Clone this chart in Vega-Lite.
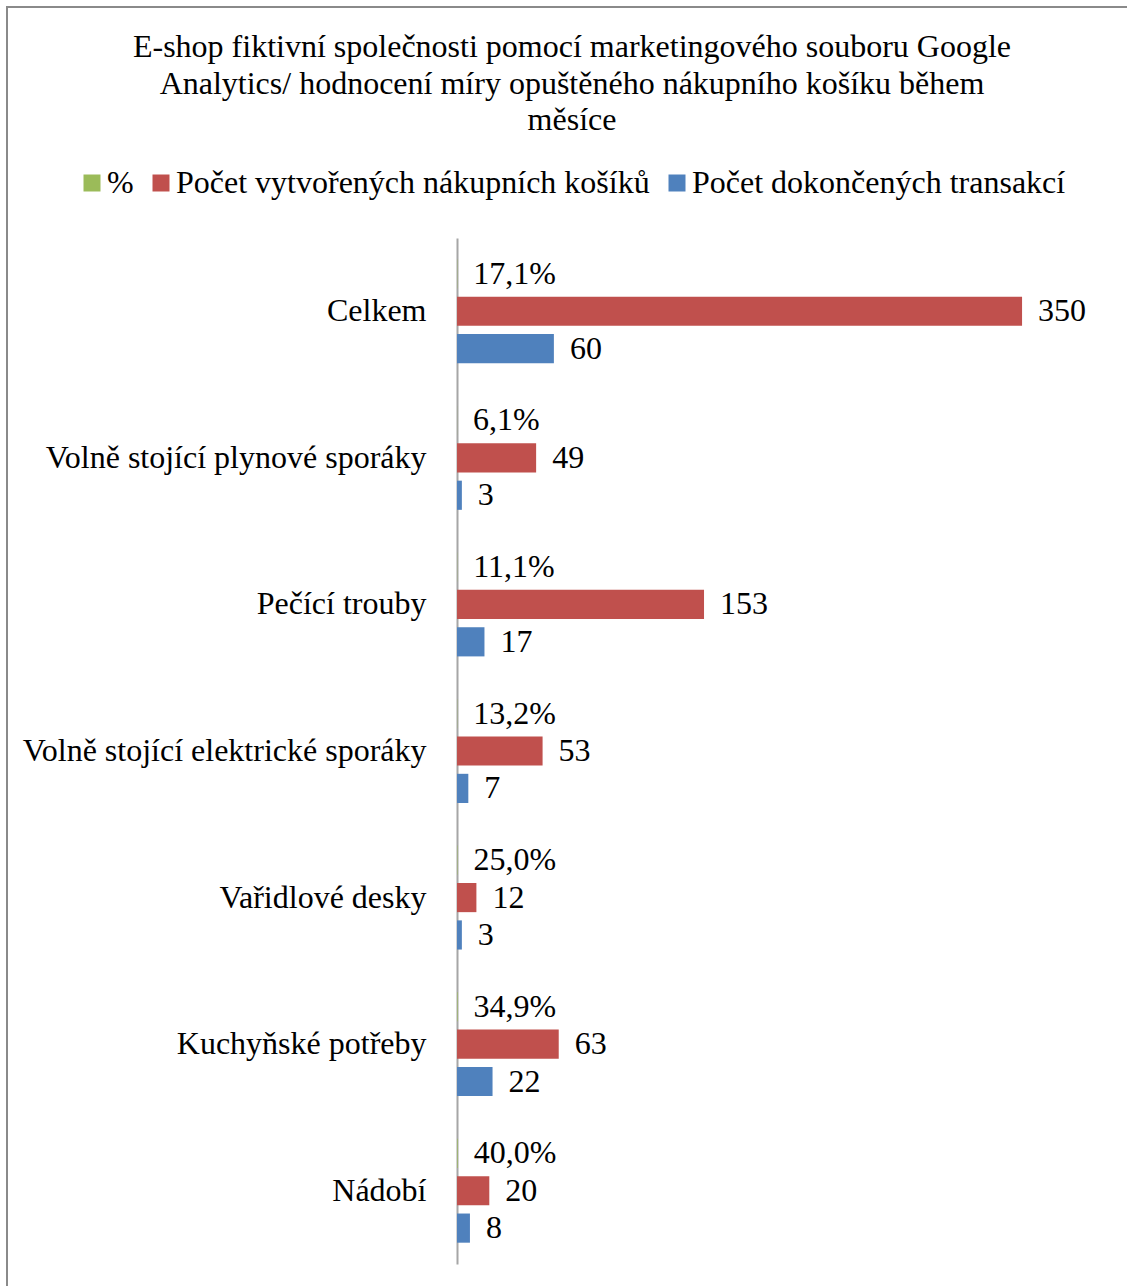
{
  "$schema": "https://vega.github.io/schema/vega-lite/v6.json",
  "autosize": "none",
  "padding": {"left": 7, "top": 7, "right": 0, "bottom": 0},
  "width": 1130,
  "height": 1290,
  "background": "white",
  "title": {
    "text": ["E-shop fiktivní společnosti pomocí marketingového souboru Google", "Analytics/ hodnocení míry opuštěného nákupního košíku během", "měsíce"],
    "font": "Liberation Serif",
    "fontSize": 32,
    "fontWeight": "normal",
    "color": "black",
    "lineHeight": 36.5,
    "anchor": "middle",
    "frame": "group",
    "baseline": "top",
    "offset": -130
  },
  "data": {
    "values": [
      {"kategorie": "Celkem", "serie": "%", "hodnota": 0.171},
      {"kategorie": "Celkem", "serie": "Počet vytvořených nákupních košíků", "hodnota": 350},
      {"kategorie": "Celkem", "serie": "Počet dokončených transakcí", "hodnota": 60},
      {"kategorie": "Volně stojící plynové sporáky", "serie": "%", "hodnota": 0.061},
      {"kategorie": "Volně stojící plynové sporáky", "serie": "Počet vytvořených nákupních košíků", "hodnota": 49},
      {"kategorie": "Volně stojící plynové sporáky", "serie": "Počet dokončených transakcí", "hodnota": 3},
      {"kategorie": "Pečící trouby", "serie": "%", "hodnota": 0.111},
      {"kategorie": "Pečící trouby", "serie": "Počet vytvořených nákupních košíků", "hodnota": 153},
      {"kategorie": "Pečící trouby", "serie": "Počet dokončených transakcí", "hodnota": 17},
      {"kategorie": "Volně stojící elektrické sporáky", "serie": "%", "hodnota": 0.132},
      {"kategorie": "Volně stojící elektrické sporáky", "serie": "Počet vytvořených nákupních košíků", "hodnota": 53},
      {"kategorie": "Volně stojící elektrické sporáky", "serie": "Počet dokončených transakcí", "hodnota": 7},
      {"kategorie": "Vařidlové desky", "serie": "%", "hodnota": 0.25},
      {"kategorie": "Vařidlové desky", "serie": "Počet vytvořených nákupních košíků", "hodnota": 12},
      {"kategorie": "Vařidlové desky", "serie": "Počet dokončených transakcí", "hodnota": 3},
      {"kategorie": "Kuchyňské potřeby", "serie": "%", "hodnota": 0.349},
      {"kategorie": "Kuchyňské potřeby", "serie": "Počet vytvořených nákupních košíků", "hodnota": 63},
      {"kategorie": "Kuchyňské potřeby", "serie": "Počet dokončených transakcí", "hodnota": 22},
      {"kategorie": "Nádobí", "serie": "%", "hodnota": 0.4},
      {"kategorie": "Nádobí", "serie": "Počet vytvořených nákupních košíků", "hodnota": 20},
      {"kategorie": "Nádobí", "serie": "Počet dokončených transakcí", "hodnota": 8}
    ]
  },
  "encoding": {
    "y": {
      "field": "kategorie",
      "type": "nominal",
      "scale": {
        "domain": ["Celkem", "Volně stojící plynové sporáky", "Pečící trouby", "Volně stojící elektrické sporáky", "Vařidlové desky", "Kuchyňské potřeby", "Nádobí"],
        "range": [231, 1257],
        "paddingInner": 0,
        "paddingOuter": 0
      },
      "axis": {
        "title": null,
        "offset": -450,
        "ticks": false,
        "grid": false,
        "domainColor": "#a6a6a6",
        "domainWidth": 2,
        "labelFont": "Liberation Serif",
        "labelFontSize": 32,
        "labelColor": "black",
        "labelPadding": 31,
        "labelLimit": 600
      }
    },
    "yOffset": {
      "field": "serie",
      "type": "nominal",
      "scale": {
        "domain": ["%", "Počet vytvořených nákupních košíků", "Počet dokončených transakcí"],
        "paddingInner": 0.22,
        "paddingOuter": 0.57
      }
    },
    "x": {
      "field": "hodnota",
      "type": "quantitative",
      "scale": {"domain": [-278.76, 421.2], "nice": false, "zero": false},
      "axis": null
    }
  },
  "layer": [
    {
      "mark": {"type": "bar"},
      "encoding": {
        "color": {
          "field": "serie",
          "type": "nominal",
          "scale": {
            "domain": ["%", "Počet vytvořených nákupních košíků", "Počet dokončených transakcí"],
            "range": ["#9BBB59", "#C0504D", "#4F81BD"]
          },
          "legend": {
            "orient": "none",
            "legendX": 69,
            "legendY": 160,
            "direction": "horizontal",
            "columns": 3,
            "title": null,
            "padding": 0,
            "symbolType": "square",
            "symbolSize": 289,
            "symbolStrokeWidth": 0,
            "symbolOpacity": 1,
            "labelFont": "Liberation Serif",
            "labelFontSize": 32,
            "labelColor": "black",
            "labelLimit": 700,
            "labelOffset": -1,
            "columnPadding": 11
          }
        }
      }
    },
    {
      "transform": [{"filter": "datum.serie === '%'"}],
      "mark": {"type": "text", "align": "left", "baseline": "middle", "dx": 16, "font": "Liberation Serif", "fontSize": 32, "color": "black"},
      "encoding": {"text": {"field": "hodnota", "type": "quantitative", "format": ".1%"}}
    },
    {
      "transform": [{"filter": "datum.serie !== '%'"}],
      "mark": {"type": "text", "align": "left", "baseline": "middle", "dx": 16, "font": "Liberation Serif", "fontSize": 32, "color": "black"},
      "encoding": {"text": {"field": "hodnota", "type": "quantitative", "format": "d"}}
    }
  ],
  "config": {
    "locale": {"number": {"decimal": ",", "thousands": " ", "grouping": [3], "currency": ["", " Kč"]}},
    "view": {"stroke": "#8a8a8a", "strokeWidth": 2}
  }
}
